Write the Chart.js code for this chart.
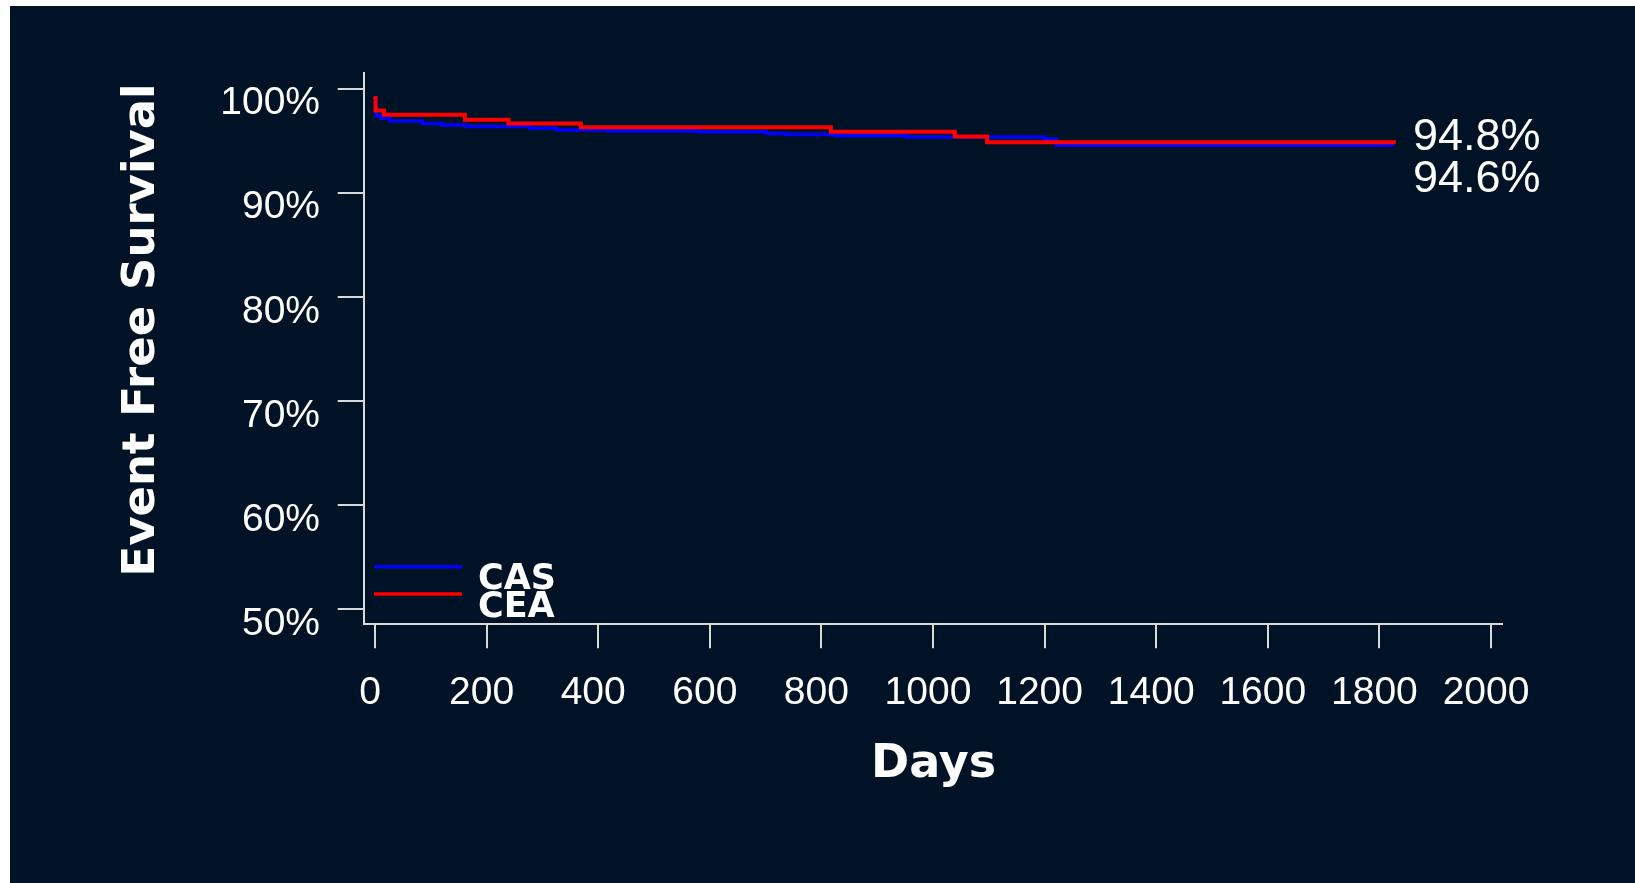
<!DOCTYPE html>
<html><head><meta charset="utf-8">
<script src="https://cdn.jsdelivr.net/npm/chart.js@4/dist/chart.umd.min.js"></script>
<style>
html,body{margin:0;padding:0;background:#ffffff;width:1635px;height:883px;overflow:hidden;}
#wrap{position:absolute;left:10px;top:6px;width:1625px;height:877px;background:#001326;}
canvas{display:block;}
</style></head><body>
<div id="wrap"><canvas id="c" width="1625" height="877"></canvas></div>
<script>
// ---- data ----
const casDays = [0, 2, 11, 27, 85, 120, 165, 277, 325, 417, 581, 701, 737, 825, 953, 1200, 1221, 1826];
const casSurv = [98.9, 97.4, 97.15, 96.9, 96.65, 96.5, 96.35, 96.2, 96.02, 95.93, 95.86, 95.7, 95.6, 95.48, 95.35, 95.15, 94.55, 94.55];
const ceaDays = [0, 1, 16, 161, 239, 369, 817, 1039, 1097, 1826];
const ceaSurv = [99.1, 97.9, 97.5, 97.0, 96.65, 96.3, 95.85, 95.4, 94.85, 94.82];
const seriesNames = ['CAS', 'CEA'];
const seriesColors = ['#0000ff', '#ff0000'];
const endLabels = ['94.6%', '94.8%'];
const xTickValues = [0, 200, 400, 600, 800, 1000, 1200, 1400, 1600, 1800, 2000];
const xTickLabels = ['0', '200', '400', '600', '800', '1000', '1200', '1400', '1600', '1800', '2000'];
const yTickValues = [50, 60, 70, 80, 90, 100];
const yTickLabels = ['50%', '60%', '70%', '80%', '90%', '100%'];
const xTitle = 'Days';
const yTitle = 'Event Free Survival';

const AXIS = '#d9d9d9';
const toPts = (d, s) => d.map((x, i) => ({x: x, y: s[i]}));

const overlay = {
  id: 'overlay',
  afterDraw(chart) {
    const ctx = chart.ctx;
    const a = chart.chartArea;
    const xs = chart.scales.x, ys = chart.scales.y;
    ctx.save();
    ctx.fillStyle = '#ffffff';
    // axis titles
    ctx.textAlign = 'center';
    ctx.textBaseline = 'alphabetic';
    ctx.font = 'bold 46px "DejaVu Sans"';
    ctx.fillText(xTitle, (a.left + a.right) / 2 + 0.7, a.bottom + 153);
    ctx.font = 'bold 45px "DejaVu Sans"';
    ctx.save();
    ctx.translate(a.left - 209.7, (a.top + a.bottom) / 2 - 18.6);
    ctx.rotate(-Math.PI / 2);
    ctx.fillText(yTitle, 0, 0);
    ctx.restore();
    // legend
    const legY = [a.bottom - 57.6, a.bottom - 30.3];
    const txtDy = [22.3, 23];
    ctx.font = 'bold 35px "DejaVu Sans"';
    ctx.textAlign = 'left';
    seriesNames.forEach((n, i) => {
      ctx.lineWidth = 3.5;
      ctx.strokeStyle = seriesColors[i];
      ctx.beginPath();
      ctx.moveTo(a.left + 10.3, legY[i]);
      ctx.lineTo(a.left + 98.3, legY[i]);
      ctx.stroke();
      ctx.fillStyle = '#ffffff';
      ctx.fillText(n, a.left + 114.3, legY[i] + txtDy[i]);
    });
    // end-of-curve labels
    ctx.font = '45px "Liberation Sans"';
    ctx.textAlign = 'left';
    const xEnd = xs.getPixelForValue(casDays[casDays.length - 1]) + 19;
    ctx.fillText(endLabels[1], xEnd, ys.getPixelForValue(ceaSurv[ceaSurv.length - 1]) + 7.5);
    ctx.fillText(endLabels[0], xEnd, ys.getPixelForValue(casSurv[casSurv.length - 1]) + 46.4);
    ctx.restore();
  }
};

new Chart(document.getElementById('c'), {
  type: 'line',
  data: {
    datasets: [
      {label: seriesNames[0], data: toPts(casDays, casSurv), borderColor: seriesColors[0], borderWidth: 3.5,
       stepped: true, pointRadius: 0, fill: false, order: 1},
      {label: seriesNames[1], data: toPts(ceaDays, ceaSurv), borderColor: seriesColors[1], borderWidth: 4,
       stepped: true, pointRadius: 0, fill: false, order: 0, borderCapStyle: 'round'}
    ]
  },
  options: {
    responsive: false,
    animation: false,
    devicePixelRatio: 1,
    layout: {padding: {top: 67, right: 133, bottom: 0, left: 0}},
    plugins: {legend: {display: false}, tooltip: {enabled: false}, title: {display: false}},
    scales: {
      x: {
        type: 'linear', min: -20.25, max: 2019.7,
        afterBuildTicks: s => { s.ticks = xTickValues.map(v => ({value: v})); },
        afterFit: s => { s.height = 258.7; },
        grid: {display: true, drawOnChartArea: false, drawTicks: true, tickLength: 24, color: AXIS, tickColor: AXIS, lineWidth: 2, tickWidth: 2},
        border: {display: true, color: AXIS, width: 2},
        ticks: {autoSkip: false, maxRotation: 0, padding: 22, labelOffset: -5, color: '#ffffff',
                font: {family: '"Liberation Sans"', size: 39},
                callback: (v) => { const i = xTickValues.indexOf(v); return i >= 0 ? xTickLabels[i] : ''; }}
      },
      y: {
        type: 'linear', min: 48.54, max: 101.5,
        afterBuildTicks: s => { s.ticks = yTickValues.map(v => ({value: v})); },
        afterFit: s => { s.width = 353.7; },
        grid: {display: true, drawOnChartArea: false, drawTicks: true, tickLength: 26, color: AXIS, tickColor: AXIS, lineWidth: 2, tickWidth: 2},
        border: {display: true, color: AXIS, width: 2},
        ticks: {autoSkip: false, padding: 17.7, labelOffset: 15, color: '#ffffff',
                font: {family: '"Liberation Sans"', size: 39},
                callback: (v) => { const i = yTickValues.indexOf(v); return i >= 0 ? yTickLabels[i] : ''; }}
      }
    }
  },
  plugins: [overlay]
});
</script>
</body></html>
